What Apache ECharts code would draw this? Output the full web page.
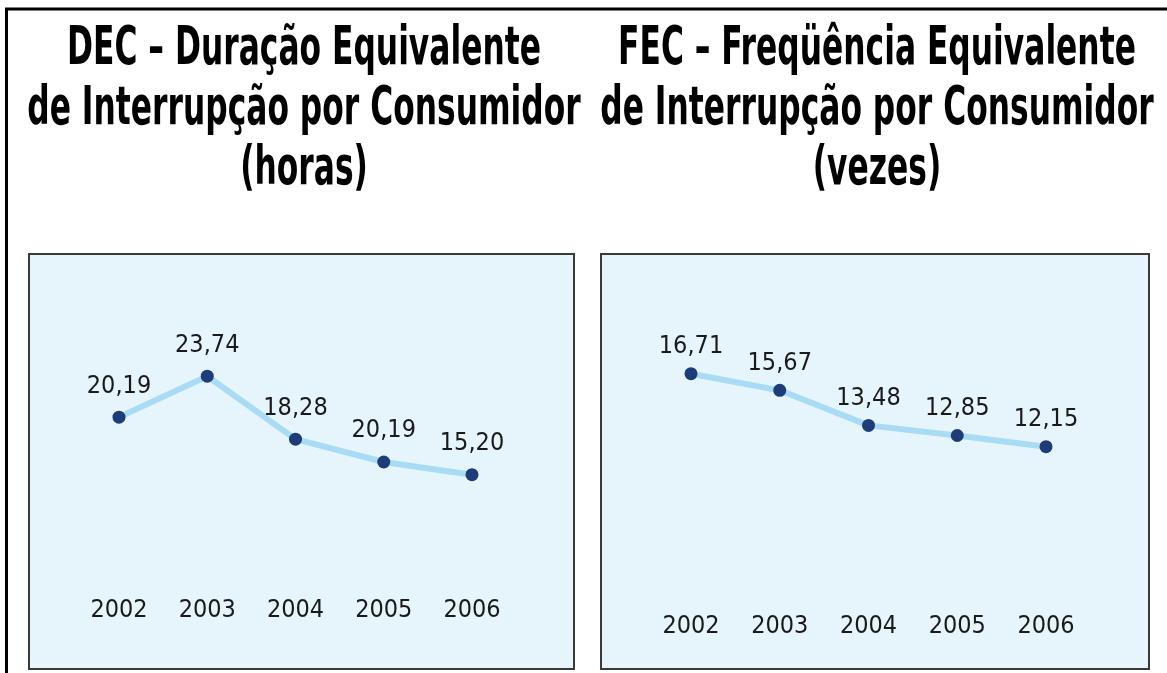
<!DOCTYPE html>
<html>
<head>
<meta charset="utf-8">
<script src="https://cdn.jsdelivr.net/npm/echarts@6/dist/echarts.min.js"></script>
<style>
  html, body { margin: 0; padding: 0; background: #fff; }
  #chart { width: 1167px; height: 673px; }
</style>
</head>
<body>
<div id="chart"></div>
<script>
// anos (eixo x)
const years = ["2002", "2003", "2004", "2005", "2006"];

// DEC: altura dos pontos no gráfico (o rótulo de 2005 no original não bate com o ponto)
const decValues = [20.19, 23.74, 18.28, 16.3, 15.20];
const decLabels = ["20,19", "23,74", "18,28", "20,19", "15,20"];

// FEC
const fecValues = [16.71, 15.67, 13.48, 12.85, 12.15];
const fecLabels = ["16,71", "15,67", "13,48", "12,85", "12,15"];

const titles = [
  "DEC – Duração Equivalente\nde Interrupção por Consumidor\n(horas)",
  "FEC – Freqüência Equivalente\nde Interrupção por Consumidor\n(vezes)"
];

const FONT = '"DejaVu Sans Condensed", "Liberation Sans Narrow", sans-serif';
const lineColor = "#a9dcf4";
const dotColor = "#1d3c78";

function lineSeries(idx, values, labels, dist) {
  return {
    type: "line",
    xAxisIndex: idx,
    yAxisIndex: idx,
    data: values,
    symbol: "circle",
    symbolSize: 13,
    lineStyle: { color: lineColor, width: 6 },
    itemStyle: { color: dotColor },
    label: {
      show: true,
      position: "top",
      distance: dist,
      formatter: p => labels[p.dataIndex],
      fontFamily: FONT,
      fontSize: 25,
      color: "#1a1a1a"
    },
    z: 5
  };
}

function xAxis(idx) {
  return {
    type: "category",
    gridIndex: idx,
    data: years,
    boundaryGap: false,
    axisLine: { show: false },
    axisTick: { show: false },
    splitLine: { show: false },
    axisLabel: { fontFamily: FONT, fontSize: 25, color: "#1a1a1a", margin: 8 }
  };
}

function yAxis(idx, min, max) {
  return {
    type: "value",
    gridIndex: idx,
    min, max,
    show: false,
    splitLine: { show: false }
  };
}

const chart = echarts.init(document.getElementById("chart"));

chart.setOption({
  animation: false,
  grid: [
    { left: 119, width: 353, top: 304, height: 286 },
    { left: 691, width: 355, top: 321, height: 285 }
  ],
  xAxis: [xAxis(0), xAxis(1)],
  yAxis: [yAxis(0, 5.2, 30), yAxis(1, 2.2, 20)],
  series: [
    lineSeries(0, decValues, decLabels, 12),
    lineSeries(1, fecValues, fecLabels, 8)
  ],
  graphic: [
    // moldura externa
    { type: "line", shape: { x1: 6.5, y1: 8, x2: 6.5, y2: 673 }, style: { stroke: "#000", lineWidth: 3 }, z: -1 },
    { type: "line", shape: { x1: 5, y1: 9, x2: 1167, y2: 9 }, style: { stroke: "#000", lineWidth: 3 }, z: -1 },
    // caixas dos gráficos
    { type: "rect", shape: { x: 29, y: 254, width: 545, height: 415 },
      style: { fill: "#e6f4fc", stroke: "#3a3a3a", lineWidth: 2 }, z: -10 },
    { type: "rect", shape: { x: 601, y: 254, width: 548, height: 415 },
      style: { fill: "#e6f4fc", stroke: "#3a3a3a", lineWidth: 2 }, z: -10 },
    // títulos
    { type: "text", x: 304, y: 20, scaleX: 0.645,
      style: { text: titles[0], font: "bold 54px " + FONT, fill: "#000", align: "center", verticalAlign: "top", lineHeight: 60 } },
    { type: "text", x: 877, y: 20, scaleX: 0.645,
      style: { text: titles[1], font: "bold 54px " + FONT, fill: "#000", align: "center", verticalAlign: "top", lineHeight: 60 } }
  ]
});
</script>
</body>
</html>
